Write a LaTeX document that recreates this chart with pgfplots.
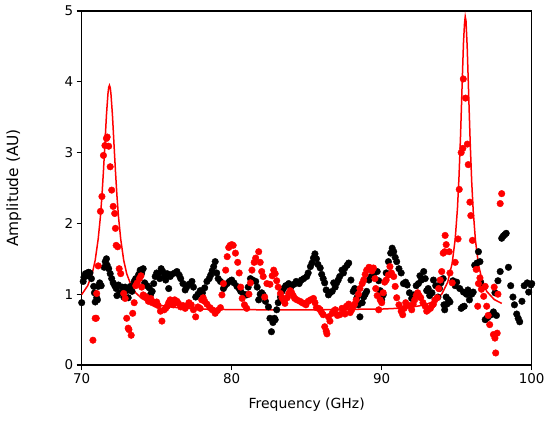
\documentclass[border=0pt]{standalone}
\usepackage{fontspec}
\setmainfont{DejaVu Sans}
\usepackage{pgfplots}
\pgfplotsset{compat=1.18}
\begin{document}
\begin{tikzpicture}
\begin{axis}[
  scale only axis,
  width=450bp, height=354bp,
  xmin=70, xmax=100, ymin=0, ymax=5,
  xtick={70,80,90,100}, ytick={0,1,2,3,4,5},
  tick pos=left, tick align=outside,
  major tick length=5bp,
  every tick/.style={black, line width=1.3bp},
  axis line style={black, line width=1.5bp},
  /pgf/number format/assume math mode=true,
  ticklabel style={font=\fontsize{13.5}{13.5}\selectfont},
  xlabel={Frequency (GHz)},
  ylabel={Amplitude (AU)},
  xlabel style={font=\fontsize{14}{14}\selectfont, at={(axis description cs:0.5,-0.113)}, anchor=center},
  ylabel style={font=\fontsize{15.5}{15.5}\selectfont, at={(axis description cs:-0.151,0.5)}, anchor=center, rotate=0},
  clip=false,
]
\coordinate (bl) at (rel axis cs:0,0);
% black dots
\addplot[only marks, mark=*, mark size=3.3bp, black, mark options={draw=black, fill=black}] coordinates {
(70.0,0.88)(70.1,1.18)(70.15,1.24)(70.25,1.29)(70.35,1.26)(70.45,1.31)(70.55,1.30)(70.65,1.22)(70.8,1.11)(70.85,1.02)(70.9,0.89)(71.0,0.95)(71.05,0.92)(71.1,1.11)(71.2,1.16)(71.3,1.12)(71.5,1.38)(71.57,1.46)(71.65,1.50)(71.7,1.41)(71.8,1.36)(71.9,1.29)(72.0,1.22)(72.1,1.16)(72.2,1.12)(72.3,1.08)(72.35,0.98)(72.45,1.13)(72.55,1.02)(72.7,1.10)(72.8,0.96)(72.9,1.10)(73.0,1.05)(73.1,0.95)(73.25,1.11)(73.35,1.04)(73.5,1.18)(73.6,1.22)(73.7,1.20)(73.8,1.28)(73.9,1.34)(74.0,1.30)(74.1,1.36)(74.2,1.16)(74.35,1.12)(74.5,1.09)(74.6,1.00)(74.7,1.04)(74.8,1.15)(74.9,1.25)(75.0,1.30)(75.1,1.29)(75.2,1.22)(75.3,1.36)(75.4,1.32)(75.5,1.25)(75.6,1.20)(75.7,1.29)(75.8,1.08)(75.9,1.25)(76.0,1.28)
(76.2,1.30)(76.35,1.32)(76.5,1.27)(76.6,1.22)(76.75,1.15)(76.9,1.06)(77.0,1.10)(77.15,1.14)(77.35,1.18)(77.45,1.10)(77.6,0.96)(77.75,1.00)(77.9,1.05)(78.05,1.02)(78.2,1.09)(78.35,1.18)(78.5,1.22)(78.6,1.27)(78.7,1.33)(78.8,1.39)(78.9,1.46)(79.0,1.30)(79.1,1.22)(79.25,1.18)(79.45,1.08)(79.55,1.12)(79.7,1.15)(79.85,1.18)(80.0,1.20)(80.15,1.16)(80.35,1.11)(80.5,1.08)(80.6,1.04)(80.8,1.00)(81.0,0.99)(81.1,1.10)(81.25,1.22)(81.4,1.20)(81.6,1.18)(81.7,1.10)(81.8,0.92)(81.9,1.00)(82.0,1.02)
(82.1,0.99)(82.25,0.90)(82.45,0.82)(82.55,0.66)(82.65,0.47)(82.75,0.60)(82.85,0.66)(82.9,0.64)(83.0,0.78)(83.1,0.88)(83.25,0.96)(83.35,1.04)(83.45,1.08)(83.6,1.12)(83.8,1.15)(83.95,1.10)(84.15,1.14)(84.3,1.18)(84.5,1.15)(84.65,1.20)(84.8,1.22)(85.0,1.25)(85.1,1.30)(85.25,1.39)(85.35,1.44)(85.45,1.51)(85.55,1.57)(85.65,1.50)(85.75,1.42)(85.9,1.37)(86.0,1.28)(86.1,1.22)(86.2,1.16)(86.3,1.06)(86.45,0.99)(86.55,1.02)(86.7,1.04)(86.8,1.16)(86.9,1.10)(87.0,1.16)(87.1,1.20)(87.2,1.25)(87.35,1.34)(87.45,1.30)(87.55,1.37)(87.7,1.41)(87.8,1.44)(87.95,1.20)(88.1,1.04)
(88.2,1.08)(88.35,0.95)(88.45,0.85)(88.55,0.68)(88.7,0.88)(88.8,0.96)(88.9,1.00)(89.0,1.04)(89.15,1.20)(89.3,1.25)(89.5,1.30)(89.7,1.32)(89.8,1.19)(89.9,1.05)(90.0,0.92)(90.1,0.99)(90.3,1.30)(90.45,1.46)(90.6,1.58)(90.7,1.65)(90.8,1.60)(90.9,1.52)(91.0,1.46)(91.15,1.36)(91.3,1.30)(91.45,1.15)(91.6,1.17)(91.7,1.13)(91.85,1.02)(92.0,0.94)(92.15,0.99)(92.3,1.12)(92.45,1.15)(92.55,1.26)(92.65,1.20)(92.8,1.32)(92.9,1.22)(93.0,1.05)(93.1,1.08)(93.2,0.98)(93.35,1.02)(93.45,1.20)(93.6,1.12)(93.75,0.96)(93.85,1.08)(93.95,1.16)(94.15,0.85)(94.2,0.78)(94.35,0.86)
(94.1,1.22)(94.3,0.96)(94.45,0.92)(94.55,0.89)(94.75,1.19)(94.9,1.12)(95.0,1.17)(95.2,1.08)(95.3,0.80)(95.4,0.82)(95.45,1.03)(95.5,0.83)(95.65,1.00)(95.75,1.06)(95.85,0.92)(96.0,1.00)(96.1,1.03)(96.2,1.41)(96.35,1.44)(96.45,1.60)(96.55,1.46)(96.6,1.17)(96.75,1.10)(96.9,0.64)(97.0,0.66)(97.1,0.68)(97.3,0.71)(97.45,0.75)(97.55,1.02)(97.65,0.70)(97.75,1.19)(97.9,1.32)(98.0,1.79)(98.1,1.82)(98.2,1.84)(98.3,1.86)(98.45,1.38)(98.6,1.12)(98.75,0.96)(98.85,0.85)(99.0,0.72)(99.1,0.66)(99.2,0.61)(99.35,0.90)(99.5,1.12)(99.7,1.16)(99.8,1.03)(99.95,1.13)(100.0,1.15)
};
% red dots
\addplot[only marks, mark=*, mark size=3.3bp, red, mark options={draw=red, fill=red}] coordinates {
(70.75,0.35)(70.9,0.66)(70.97,0.66)(71.0,1.01)(71.1,1.40)(71.25,2.17)(71.35,2.38)(71.45,2.96)(71.55,3.10)(71.65,3.20)(71.7,3.22)(71.8,3.09)(71.9,2.80)(72.0,2.47)(72.1,2.24)(72.2,2.14)(72.25,1.93)(72.3,1.69)(72.4,1.67)(72.5,1.36)(72.6,1.29)(72.8,1.01)(72.9,0.94)(73.0,0.66)(73.1,0.52)(73.15,0.50)(73.3,0.42)(73.4,0.73)(73.5,0.88)(73.6,1.12)(73.7,1.16)(73.85,1.22)(73.95,1.26)(74.0,1.10)(74.1,0.99)(74.2,0.97)(74.3,0.96)(74.45,0.90)(74.6,0.94)(74.7,0.88)(74.8,0.89)(74.9,0.86)(75.0,0.89)(75.1,0.84)(75.25,0.76)(75.35,0.62)(75.5,0.78)(75.6,0.80)(75.7,0.83)(75.8,0.88)(75.9,0.92)(76.0,0.87)(76.1,0.85)
(76.2,0.92)(76.35,0.90)(76.45,0.87)(76.6,0.82)(76.75,0.84)(76.9,0.80)(77.0,0.83)(77.15,0.88)(77.3,0.85)(77.45,0.78)(77.6,0.68)(77.75,0.82)(77.9,0.80)(78.0,0.92)(78.1,0.95)(78.2,0.90)(78.35,0.86)(78.55,0.81)(78.7,0.78)(78.9,0.73)(79.05,0.77)(79.25,0.81)(79.35,0.99)(79.45,1.15)(79.6,1.34)(79.7,1.53)(79.8,1.66)(79.9,1.69)(80.0,1.70)(80.1,1.69)(80.25,1.58)(80.4,1.45)(80.5,1.30)(80.6,1.10)(80.7,0.94)(80.85,0.85)(81.0,0.80)(81.15,1.00)(81.25,1.16)(81.35,1.34)(81.5,1.45)(81.6,1.51)(81.8,1.60)(81.9,1.45)(82.0,1.32)(82.2,0.96)
(82.1,1.25)(82.35,1.15)(82.55,1.14)(82.7,1.26)(82.8,1.34)(82.9,1.29)(83.0,1.19)(83.1,1.10)(83.25,1.01)(83.35,0.95)(83.45,0.92)(83.55,0.87)(83.7,0.95)(83.8,1.01)(83.9,1.05)(84.0,1.02)(84.1,0.98)(84.2,0.94)(84.35,0.92)(84.55,0.90)(84.7,0.88)(84.8,0.87)(84.95,0.85)(85.1,0.90)(85.25,0.92)(85.45,0.94)(85.55,0.88)(85.65,0.81)(85.8,0.80)(85.9,0.78)(86.0,0.74)(86.1,0.71)(86.2,0.54)(86.3,0.48)(86.35,0.44)(86.45,0.68)(86.55,0.62)(86.7,0.73)(86.8,0.76)(86.9,0.78)(87.05,0.70)(87.2,0.71)(87.35,0.80)(87.45,0.76)(87.55,0.72)(87.65,0.83)(87.8,0.86)(87.9,0.74)(88.0,0.78)(88.2,0.86)
(88.1,0.83)(88.3,0.92)(88.45,1.00)(88.55,1.08)(88.7,1.15)(88.8,1.20)(88.9,1.28)(89.0,1.34)(89.15,1.38)(89.25,1.37)(89.35,1.33)(89.45,1.37)(89.55,1.22)(89.6,1.08)(89.7,0.98)(89.8,0.78)(89.9,0.92)(90.0,0.88)(90.1,1.02)(90.2,1.17)(90.3,1.20)(90.45,1.27)(90.55,1.39)(90.65,1.30)(90.8,1.25)(90.9,1.11)(91.0,0.95)(91.15,0.85)(91.3,0.76)(91.4,0.71)(91.5,0.80)(91.6,0.88)(91.8,0.84)(92.0,0.78)(92.1,0.86)(92.2,0.92)(92.3,0.98)(92.4,1.02)(92.5,0.98)(92.6,0.95)(92.75,0.88)(92.9,0.83)(93.0,0.76)(93.1,0.78)(93.25,0.80)(93.35,0.84)(93.45,0.86)(93.55,0.92)(93.7,0.95)(93.8,1.08)(93.9,1.20)(94.0,1.32)(94.1,1.58)(94.2,1.60)(94.23,1.83)(94.3,1.70)
(94.5,1.60)(94.55,1.30)(94.7,1.16)(94.9,1.45)(95.09,1.78)(95.17,2.48)(95.3,3.00)(95.41,3.06)(95.44,4.04)(95.59,3.77)(95.71,3.12)(95.77,2.83)(95.88,2.30)(95.94,2.11)(96.05,1.76)(96.3,1.35)(96.4,0.83)(96.45,1.15)(96.55,1.23)(96.65,1.07)(96.8,0.97)(96.9,1.11)(97.0,0.83)(97.1,0.70)(97.2,0.57)(97.45,0.43)(97.5,1.10)(97.55,0.38)(97.6,0.17)(97.7,0.45)(97.75,1.00)(97.9,2.28)(98.0,2.42)
};
% red fitted line
\addplot[red, line width=1.5bp, mark=none] coordinates {
(70.0,0.995)(70.4,1.12)(70.7,1.29)(70.9,1.48)(71.1,1.78)(71.25,2.10)(71.35,2.39)(71.45,2.74)(71.55,3.13)(71.65,3.53)(71.75,3.83)(71.8,3.92)(71.85,3.95)(71.9,3.92)(71.95,3.83)(72.05,3.53)(72.15,3.13)(72.25,2.74)(72.35,2.39)(72.45,2.10)(72.6,1.78)(72.8,1.48)(73.0,1.29)(73.3,1.12)(73.6,1.02)(74.0,0.94)(74.5,0.884)(75.0,0.851)(76,0.817)(77,0.80)(78,0.79)(80,0.782)(82,0.78)(84,0.78)(86,0.78)(88,0.785)(89,0.79)(90,0.79)(91,0.80)(92,0.82)(92.5,0.835)(93.0,0.86)(93.5,0.90)(94.0,1.00)(94.4,1.17)(94.7,1.44)(94.9,1.78)(95.05,2.21)(95.15,2.64)(95.25,3.20)(95.35,3.88)(95.45,4.54)(95.52,4.82)(95.57,4.92)(95.62,4.86)(95.7,4.49)(95.8,3.81)(95.9,3.14)(96.0,2.59)(96.1,2.18)(96.25,1.76)(96.45,1.42)(96.7,1.19)(97.0,1.04)(97.5,0.925)(98.0,0.87)
};
\end{axis}
\pgfresetboundingbox
\path (bl) ++(-81.7bp,-56bp) rectangle ++(550bp,421bp);
\end{tikzpicture}
\end{document}
